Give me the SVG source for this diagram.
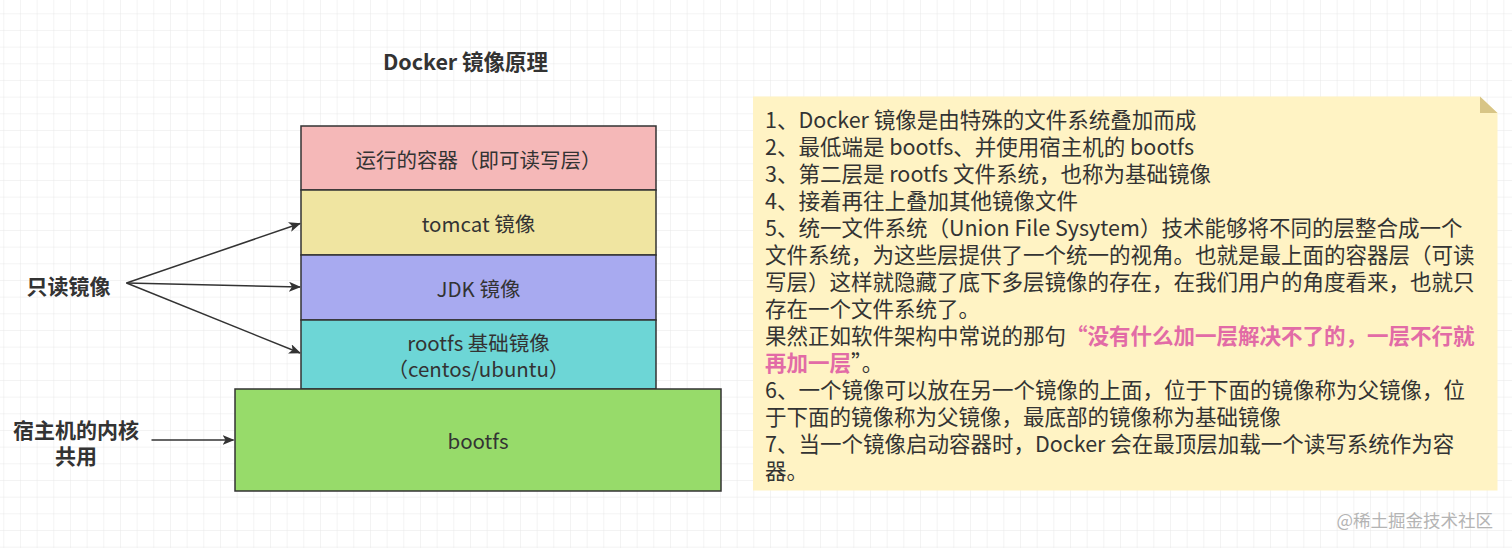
<svg xmlns="http://www.w3.org/2000/svg" width="1512" height="548" viewBox="0 0 1512 548">
  <defs>
    <pattern id="grid" x="3.3" y="13.3" width="16.667" height="16.667" patternUnits="userSpaceOnUse">
      <path d="M16.667 0 L0 0 L0 16.667" fill="none" stroke="#e8e8e8" stroke-width="1"/>
    </pattern>
    <marker id="arrow" viewBox="0 0 12 10" refX="11" refY="5" markerWidth="12" markerHeight="10" markerUnits="userSpaceOnUse" orient="auto">
      <path d="M0 0 L12 5 L0 10 L3 5 Z" fill="#333"/>
    </marker>
    <style>
      .lbl { font-family: "Noto Sans CJK SC", "Noto Sans", sans-serif; font-size: 20.5px; fill: #333; text-anchor: middle; dominant-baseline: central; }
      .side { font-family: "Noto Sans CJK SC", "Noto Sans", sans-serif; font-size: 21px; font-weight: bold; fill: #333; text-anchor: middle; dominant-baseline: central; }
      .layer { stroke: #333; stroke-width: 1.5; }
      .note { font-family: "Noto Sans CJK SC", "Noto Sans", sans-serif; font-size: 21.5px; fill: #333; dominant-baseline: central; }
      .pink { fill: #e26ba6; font-weight: bold; }
      .conn { stroke: #333; stroke-width: 1.5; fill: none; marker-end: url(#arrow); }
    </style>
  </defs>

  <rect x="0" y="0" width="1512" height="548" fill="#ffffff"/>
  <rect x="0" y="0" width="1512" height="548" fill="url(#grid)"/>

  <g id="title">
    <text x="465.5" y="60" class="side" style="font-size:21.5px">Docker 镜像原理</text>
  </g>

  <g id="layer-container">
    <rect x="301" y="126" width="355" height="64" fill="#f5b8b8" class="layer"/>
    <text x="478.5" y="159" class="lbl">运行的容器（即可读写层）</text>
  </g>
  <g id="layer-tomcat">
    <rect x="301" y="190" width="355" height="65" fill="#f0e5a1" class="layer"/>
    <text x="478.5" y="223" class="lbl">tomcat 镜像</text>
  </g>
  <g id="layer-jdk">
    <rect x="301" y="255" width="355" height="65" fill="#a8aaf0" class="layer"/>
    <text x="478.5" y="288" class="lbl">JDK 镜像</text>
  </g>
  <g id="layer-rootfs">
    <rect x="301" y="320" width="355" height="69" fill="#6dd6d6" class="layer"/>
    <text x="478.5" y="342" class="lbl">rootfs 基础镜像</text>
    <text x="478.5" y="368" class="lbl">（centos/ubuntu）</text>
  </g>
  <g id="layer-bootfs">
    <rect x="235" y="389" width="486" height="102" fill="#97db6a" class="layer"/>
    <text x="478" y="440" class="lbl">bootfs</text>
  </g>

  <g id="label-readonly">
    <text x="68.5" y="284.5" class="side">只读镜像</text>
  </g>
  <g id="label-host">
    <text x="76" y="429" class="side">宿主机的内核</text>
    <text x="76" y="455" class="side">共用</text>
  </g>

  <g id="connectors">
    <line x1="126.5" y1="283" x2="300" y2="223.5" class="conn"/>
    <line x1="126.5" y1="283" x2="300" y2="287" class="conn"/>
    <line x1="126.5" y1="283" x2="300" y2="353" class="conn"/>
    <line x1="151.5" y1="440" x2="233.5" y2="440" class="conn"/>
  </g>

  <g id="note">
    <path d="M753 96.5 L1480 96.5 L1497.5 113 L1497.5 490.5 L753 490.5 Z" fill="#fff3c4"/>
    <path d="M1480 96.5 L1480 113 L1497.5 113 Z" fill="#d8c586"/>
    <text class="note" x="765" y="118.3">1、Docker 镜像是由特殊的文件系统叠加而成</text>
    <text class="note" x="765" y="145.3">2、最低端是 bootfs、并使用宿主机的 bootfs</text>
    <text class="note" x="765" y="172.3">3、第二层是 rootfs 文件系统，也称为基础镜像</text>
    <text class="note" x="765" y="199.3">4、接着再往上叠加其他镜像文件</text>
    <text class="note" x="765" y="226.3">5、统一文件系统（Union File Sysytem）技术能够将不同的层整合成一个</text>
    <text class="note" x="765" y="253.3">文件系统，为这些层提供了一个统一的视角。也就是最上面的容器层（可读</text>
    <text class="note" x="765" y="280.3">写层）这样就隐藏了底下多层镜像的存在，在我们用户的角度看来，也就只</text>
    <text class="note" x="765" y="307.3">存在一个文件系统了。</text>
    <text class="note" x="765" y="334.3">果然正如软件架构中常说的那句<tspan class="pink">“没有什么加一层解决不了的，一层不行就</tspan></text>
    <text class="note" x="765" y="361.3"><tspan class="pink">再加一层</tspan>”。</text>
    <text class="note" x="765" y="388.3">6、一个镜像可以放在另一个镜像的上面，位于下面的镜像称为父镜像，位</text>
    <text class="note" x="765" y="415.3">于下面的镜像称为父镜像，最底部的镜像称为基础镜像</text>
    <text class="note" x="765" y="442.3">7、当一个镜像启动容器时，Docker 会在最顶层加载一个读写系统作为容</text>
    <text class="note" x="765" y="469.3">器。</text>
  </g>

  <g id="watermark">
    <text x="1493" y="519" style="font-family:'Noto Sans CJK SC','Noto Sans',sans-serif;font-size:17.5px;fill:#b4b4b4;text-anchor:end;dominant-baseline:central">@稀土掘金技术社区</text>
  </g>
</svg>
